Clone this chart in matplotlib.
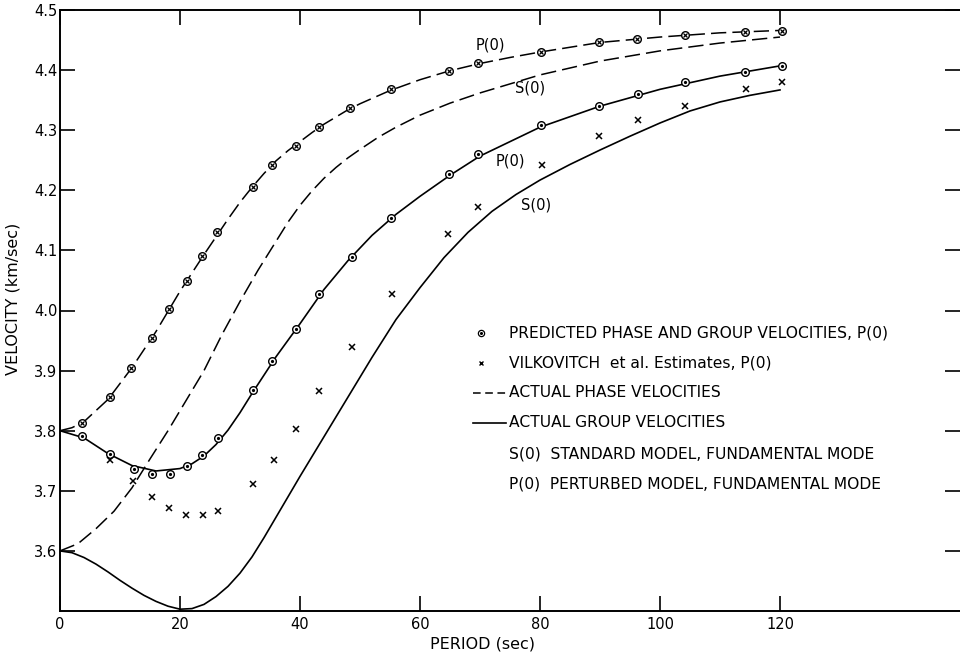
import matplotlib
matplotlib.use("Agg")
import matplotlib.pyplot as plt

plt.rcParams['font.family'] = ['DejaVu Sans']

# ---- curves ----
p0_phase_x = [0, 2, 4, 8, 12, 16, 20, 24, 28, 30, 32, 34, 36, 38, 40, 42, 44, 46, 48, 50, 55, 60, 65, 70,
              75, 80, 90, 100, 110, 120]
p0_phase_v = [3.800, 3.805, 3.815, 3.852, 3.905, 3.965, 4.032, 4.093, 4.152, 4.180, 4.205, 4.228, 4.249,
              4.266, 4.281, 4.296, 4.310, 4.322, 4.334, 4.344, 4.366, 4.384, 4.399, 4.411,
              4.421, 4.430, 4.446, 4.455, 4.462, 4.466]

s0_phase_x = [0, 3, 6, 9, 12, 15, 18, 21, 24, 27, 30, 33, 36, 38, 40, 42, 44, 46, 48, 50, 53, 56, 60,
              65, 70, 80, 90, 100, 110, 120]
s0_phase_v = [3.600, 3.612, 3.637, 3.666, 3.705, 3.753, 3.800, 3.850, 3.900, 3.960, 4.015, 4.067, 4.115,
              4.147, 4.175, 4.199, 4.220, 4.238, 4.254, 4.268, 4.288, 4.305, 4.325,
              4.345, 4.362, 4.392, 4.415, 4.432, 4.445, 4.455]

p0_group_x = [0, 4, 8, 12, 16, 20, 22, 24, 26, 28, 30, 32, 36, 40, 44, 48, 52, 56, 60, 65, 70, 80, 90,
              100, 110, 120]
p0_group_v = [3.800, 3.788, 3.762, 3.742, 3.733, 3.737, 3.745, 3.758, 3.777, 3.801, 3.830, 3.862, 3.923,
              3.978, 4.035, 4.083, 4.125, 4.160, 4.190, 4.225, 4.257, 4.305, 4.340,
              4.368, 4.390, 4.407]

s0_group_x = [0, 2, 4, 6, 8, 10, 12, 14, 16, 18, 20, 22, 24, 26, 28, 30, 32, 34, 36, 38, 40, 44, 48, 52,
              56, 60, 64, 68, 72, 76, 80, 85, 90, 95, 100, 105, 110, 115, 120]
s0_group_v = [3.600, 3.597, 3.589, 3.578, 3.565, 3.551, 3.538, 3.526, 3.516, 3.508, 3.503, 3.504, 3.511,
              3.524, 3.541, 3.563, 3.590, 3.622, 3.656, 3.690, 3.724, 3.790, 3.856, 3.922,
              3.985, 4.038, 4.088, 4.130, 4.165, 4.193, 4.217, 4.243, 4.267, 4.290, 4.312, 4.332,
              4.347, 4.358, 4.367]

# ---- predicted points, P(0) ----
pred_phase_x = [3.6, 8.3, 11.9, 15.4, 18.1, 21.1, 23.7, 26.2, 32.1, 35.3, 39.3, 43.2, 48.4, 55.1,
                64.8, 69.7, 80.1, 89.8, 96.1, 104.1, 114.1, 120.3]
pred_phase_v = [3.812, 3.856, 3.905, 3.955, 4.002, 4.049, 4.091, 4.131, 4.206, 4.242, 4.274, 4.306,
                4.337, 4.368, 4.399, 4.411, 4.430, 4.446, 4.452, 4.459, 4.464, 4.465]

pred_group_x = [3.6, 8.4, 12.3, 15.3, 18.3, 21.1, 23.7, 26.4, 32.1, 35.4, 39.3, 43.2, 48.6, 55.1,
                64.8, 69.7, 80.2, 89.8, 96.3, 104.2, 114.2, 120.3]
pred_group_v = [3.791, 3.762, 3.737, 3.728, 3.728, 3.742, 3.759, 3.788, 3.867, 3.916, 3.970, 4.027,
                4.089, 4.154, 4.227, 4.260, 4.308, 4.340, 4.360, 4.380, 4.397, 4.407]

# ---- Vilkovitch et al. estimates ----
vilk_x = [8.3, 12.2, 15.4, 18.2, 21.0, 23.8, 26.4, 32.1, 35.7, 39.3, 43.2, 48.6, 55.3,
          64.7, 69.7, 80.3, 89.8, 96.3, 104.1, 114.3, 120.3]
vilk_v = [3.752, 3.716, 3.690, 3.672, 3.659, 3.659, 3.667, 3.712, 3.752, 3.803, 3.866, 3.940, 4.028,
          4.128, 4.173, 4.242, 4.290, 4.317, 4.341, 4.369, 4.381]

x_ticks = [0, 20, 40, 60, 80, 100, 120]
y_ticks = [3.6, 3.7, 3.8, 3.9, 4.0, 4.1, 4.2, 4.3, 4.4, 4.5]

legend_rows = ["PREDICTED PHASE AND GROUP VELOCITIES, P(0)",
               "VILKOVITCH  et al. Estimates, P(0)",
               "ACTUAL PHASE VELOCITIES",
               "ACTUAL GROUP VELOCITIES",
               "S(0)  STANDARD MODEL, FUNDAMENTAL MODE",
               "P(0)  PERTURBED MODEL, FUNDAMENTAL MODE"]

fig = plt.figure(figsize=(9.6, 6.6), dpi=100)
ax = fig.add_axes([60/960, 49/660, 900/960, 601/660])
ax.set_xlim(0, 150)
ax.set_ylim(3.5, 4.5)

dash = (0, (10, 4))
ax.plot(p0_phase_x, p0_phase_v, color='black', lw=1.1, linestyle=dash)
ax.plot(s0_phase_x, s0_phase_v, color='black', lw=1.1, linestyle=dash)
ax.plot(p0_group_x, p0_group_v, color='black', lw=1.2)
ax.plot(s0_group_x, s0_group_v, color='black', lw=1.2)

# crossed circles on phase curve
ax.plot(pred_phase_x, pred_phase_v, 'o', ms=5.5, mfc='white', mec='black', mew=1.0, zorder=5)
ax.plot(pred_phase_x, pred_phase_v, 'x', ms=3.5, mec='black', mew=0.9, zorder=6)
# dotted circles on group curve
ax.plot(pred_group_x, pred_group_v, 'o', ms=5.5, mfc='white', mec='black', mew=1.0, zorder=5)
ax.plot(pred_group_x, pred_group_v, 'o', ms=1.3, mfc='black', mec='black', zorder=6)
# Vilkovitch crosses
ax.plot(vilk_x, vilk_v, 'x', ms=4.0, mec='black', mew=1.1, zorder=5)

fs = 10.5
ax.text(71.7, 4.442, "P(0)", fontsize=fs, ha='center', va='center')
ax.text(78.3, 4.371, "S(0)", fontsize=fs, ha='center', va='center')
ax.text(75.0, 4.248, "P(0)", fontsize=fs, ha='center', va='center')
ax.text(79.4, 4.175, "S(0)", fontsize=fs, ha='center', va='center')

# legend block
row_v = [3.962, 3.912, 3.863, 3.813, 3.762, 3.712]
tx = 74.8
for txt, v in zip(legend_rows, row_v):
    ax.text(tx, v, txt, fontsize=11.2, ha='left', va='center')
ax.plot([70.1], [row_v[0]], 'o', ms=4.5, mfc='white', mec='black', mew=0.9)
ax.plot([70.1], [row_v[0]], 'o', ms=1.2, mfc='black', mec='black')
ax.plot([70.1], [row_v[1]], 'x', ms=3.0, mec='black', mew=1.0)
ax.plot([68.8, 74.3], [row_v[2], row_v[2]], color='black', lw=1.1, linestyle=(0, (5, 3)))
ax.plot([68.8, 74.3], [row_v[3], row_v[3]], color='black', lw=1.2)

# axes styling
for s in ['left', 'bottom', 'top']:
    ax.spines[s].set_linewidth(1.4)
ax.spines['right'].set_visible(False)

ax.set_xticks(x_ticks)
ax.set_xticklabels([str(t) for t in x_ticks], fontsize=10.5)
ax.set_yticks(y_ticks)
ax.set_yticklabels([f"{t:.1f}" for t in y_ticks], fontsize=10.5)
ax.tick_params(axis='both', direction='in', length=11, width=1.2)
ax.tick_params(axis='x', top=True, labeltop=False, pad=4)
ax.tick_params(axis='y', right=True, labelright=False, pad=2)

ax.text(70.5, 3.445, "PERIOD (sec)", fontsize=11.5, ha='center', va='center', clip_on=False)
ax.text(-7.8, 4.02, "VELOCITY (km/sec)", fontsize=11.5, ha='center', va='center',
        rotation=90, clip_on=False)

fig.savefig("out.png", dpi=100)
